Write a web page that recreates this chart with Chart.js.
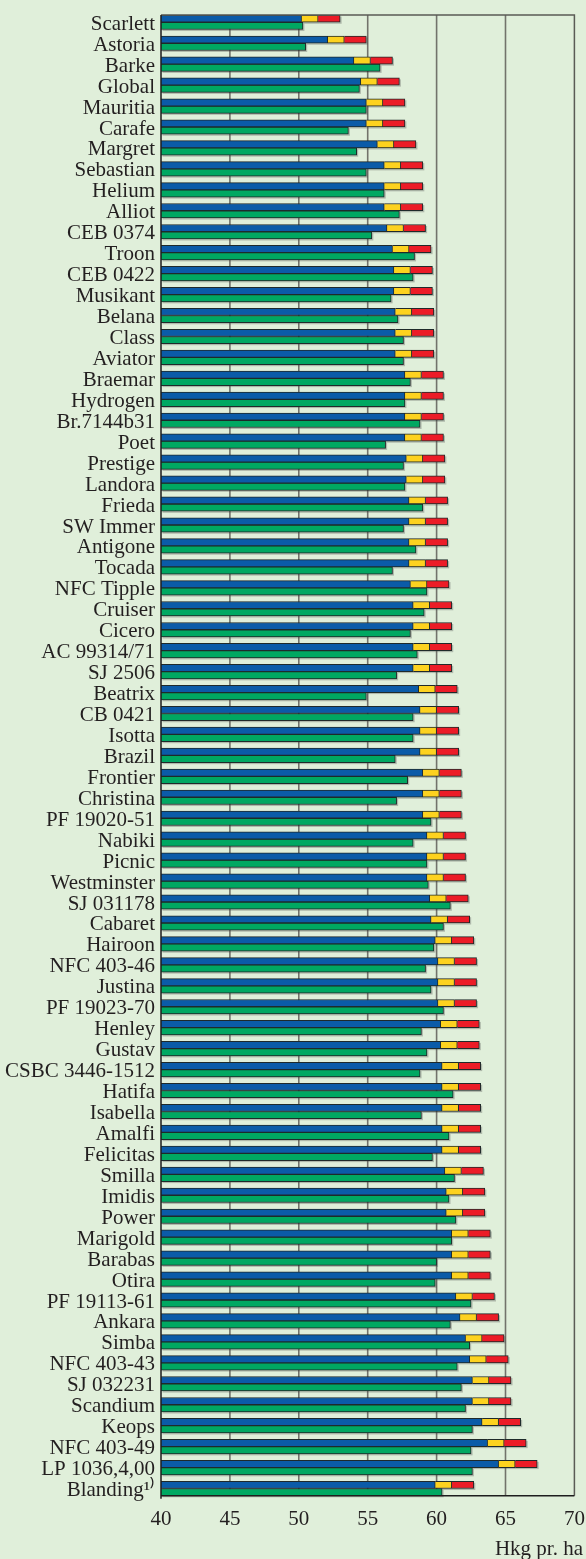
<!DOCTYPE html>
<html>
<head>
<meta charset="utf-8">
<script src="https://cdn.jsdelivr.net/npm/chart.js@4.4.0/dist/chart.umd.min.js"></script>
<style>
  html, body { margin: 0; padding: 0; background: #e0efda; }
  #wrap { width: 586px; height: 1559px; position: relative; }
</style>
</head>
<body>
<div id="wrap"><canvas id="chart"></canvas></div>
<script>
// Sorter
const varieties = [
    'Scarlett', 'Astoria', 'Barke', 'Global', 'Mauritia', 'Carafe', 'Margret', 'Sebastian', 'Helium',
    'Alliot', 'CEB 0374', 'Troon', 'CEB 0422', 'Musikant', 'Belana', 'Class', 'Aviator', 'Braemar',
    'Hydrogen', 'Br.7144b31', 'Poet', 'Prestige', 'Landora', 'Frieda', 'SW Immer', 'Antigone', 'Tocada',
    'NFC Tipple', 'Cruiser', 'Cicero', 'AC 99314/71', 'SJ 2506', 'Beatrix', 'CB 0421', 'Isotta', 'Brazil',
    'Frontier', 'Christina', 'PF 19020-51', 'Nabiki', 'Picnic', 'Westminster', 'SJ 031178', 'Cabaret',
    'Hairoon', 'NFC 403-46', 'Justina', 'PF 19023-70', 'Henley', 'Gustav', 'CSBC 3446-1512', 'Hatifa', 'Isabella',
    'Amalfi', 'Felicitas', 'Smilla', 'Imidis', 'Power', 'Marigold', 'Barabas', 'Otira', 'PF 19113-61',
    'Ankara', 'Simba', 'NFC 403-43', 'SJ 032231', 'Scandium', 'Keops', 'NFC 403-49', 'LP 1036,4,00', 'Blanding¹⁾'
];

// Udbytte, blå søjle (hkg pr. ha)
const yieldBlue = [
    50.2, 52.1, 54.0, 54.5, 54.9, 54.9, 55.7, 56.2, 56.2,
    56.2, 56.4, 56.8, 56.9, 56.9, 57.0, 57.0, 57.0, 57.7,
    57.7, 57.7, 57.7, 57.8, 57.8, 58.0, 58.0, 58.0, 58.0,
    58.1, 58.3, 58.3, 58.3, 58.3, 58.7, 58.8, 58.8, 58.8,
    59.0, 59.0, 59.0, 59.3, 59.3, 59.3, 59.5, 59.6,
    59.9, 60.1, 60.1, 60.1, 60.3, 60.3, 60.4, 60.4, 60.4,
    60.4, 60.4, 60.6, 60.7, 60.7, 61.1, 61.1, 61.1, 61.4,
    61.7, 62.1, 62.4, 62.6, 62.6, 63.3, 63.7, 64.5, 59.9
];

// Gult tillæg
const stepYellow = [
    1.2, 1.2, 1.2, 1.2, 1.2, 1.2, 1.2, 1.2, 1.2,
    1.2, 1.2, 1.2, 1.2, 1.2, 1.2, 1.2, 1.2, 1.2,
    1.2, 1.2, 1.2, 1.2, 1.2, 1.2, 1.2, 1.2, 1.2,
    1.2, 1.2, 1.2, 1.2, 1.2, 1.2, 1.2, 1.2, 1.2,
    1.2, 1.2, 1.2, 1.2, 1.2, 1.2, 1.2, 1.2,
    1.2, 1.2, 1.2, 1.2, 1.2, 1.2, 1.2, 1.2, 1.2,
    1.2, 1.2, 1.2, 1.2, 1.2, 1.2, 1.2, 1.2, 1.2,
    1.2, 1.2, 1.2, 1.2, 1.2, 1.2, 1.2, 1.2, 1.2
];

// Rødt tillæg
const stepRed = [
    1.6, 1.6, 1.6, 1.6, 1.6, 1.6, 1.6, 1.6, 1.6,
    1.6, 1.6, 1.6, 1.6, 1.6, 1.6, 1.6, 1.6, 1.6,
    1.6, 1.6, 1.6, 1.6, 1.6, 1.6, 1.6, 1.6, 1.6,
    1.6, 1.6, 1.6, 1.6, 1.6, 1.6, 1.6, 1.6, 1.6,
    1.6, 1.6, 1.6, 1.6, 1.6, 1.6, 1.6, 1.6,
    1.6, 1.6, 1.6, 1.6, 1.6, 1.6, 1.6, 1.6, 1.6,
    1.6, 1.6, 1.6, 1.6, 1.6, 1.6, 1.6, 1.6, 1.6,
    1.6, 1.6, 1.6, 1.6, 1.6, 1.6, 1.6, 1.6, 1.6
];

// Udbytte, grøn søjle
const yieldGreen = [
    50.3, 50.5, 55.9, 54.4, 54.9, 53.6, 54.2, 54.9, 56.2,
    57.3, 55.3, 58.4, 58.3, 56.7, 57.2, 57.6, 57.6, 58.1,
    57.7, 58.8, 56.3, 57.6, 57.7, 59.0, 57.6, 58.5, 56.8,
    59.3, 59.1, 58.1, 58.6, 57.1, 54.9, 58.3, 58.3, 57.0,
    57.9, 57.1, 59.6, 58.3, 59.3, 59.4, 61.0, 60.5,
    59.8, 59.2, 59.6, 60.5, 58.9, 59.3, 58.8, 61.2, 58.9,
    60.9, 59.7, 61.3, 60.9, 61.4, 61.1, 60.0, 59.9, 62.5,
    61.0, 62.4, 61.5, 61.8, 62.1, 62.6, 62.5, 62.6, 60.4
];

const xMin = 40;
const xMax = 70;
const xStep = 5;
const unitLabel = 'Hkg pr. ha';

const barThickness = 7.25;
const textColor = '#231f20';
const serif = '"Liberation Serif", "Times New Roman", serif';

// Gitter, skygger og ramme
const framePlugin = {
    id: 'frame',
    beforeDatasetsDraw(chart) {
        const { ctx, chartArea, scales: { x, y } } = chart;
        const top = y.getPixelForValue(0) - barThickness;
        const bottom = y.getPixelForValue(varieties.length - 1) + barThickness;

        ctx.save();
        ctx.strokeStyle = '#72736b';
        ctx.lineWidth = 1.6;
        x.ticks.forEach(t => {
            if (t.value <= xMin || t.value >= xMax) return;
            const px = x.getPixelForValue(t.value);
            ctx.beginPath();
            ctx.moveTo(px, top);
            ctx.lineTo(px, bottom);
            ctx.stroke();
        });

        // skygge under søjlerne
        ctx.beginPath();
        ctx.rect(chartArea.left, chartArea.top, chartArea.right - chartArea.left + 4, chartArea.bottom - chartArea.top + 4);
        ctx.clip();
        ctx.fillStyle = 'rgba(70, 70, 70, 0.32)';
        chart.data.datasets.forEach((ds, i) => {
            chart.getDatasetMeta(i).data.forEach(bar => {
                const p = bar.getProps(['x', 'y', 'base', 'height']);
                const l = Math.max(Math.min(p.x, p.base), chartArea.left);
                const r = Math.max(p.x, p.base);
                ctx.fillRect(l + 1.5, p.y - p.height / 2 + 1.5, r - l, p.height);
            });
        });
        ctx.restore();
    },
    afterDatasetsDraw(chart) {
        const { ctx, scales: { x, y } } = chart;
        const top = y.getPixelForValue(0) - barThickness;
        const bottom = y.getPixelForValue(varieties.length - 1) + barThickness;
        const left = x.getPixelForValue(xMin);
        const right = x.getPixelForValue(xMax);

        ctx.save();
        ctx.lineWidth = 1.5;
        ctx.strokeStyle = '#5a5b55';
        ctx.beginPath();
        ctx.moveTo(left, top);
        ctx.lineTo(right, top);
        ctx.lineTo(right, bottom);
        ctx.stroke();

        ctx.strokeStyle = '#1e1e1e';
        ctx.beginPath();
        ctx.moveTo(left, top);
        ctx.lineTo(left, bottom + 3);
        ctx.moveTo(left, bottom);
        ctx.lineTo(right, bottom);
        ctx.stroke();
        ctx.restore();
    },
    afterDraw(chart) {
        const { ctx } = chart;
        ctx.save();
        ctx.font = '21px ' + serif;
        ctx.fillStyle = textColor;
        ctx.textAlign = 'right';
        ctx.textBaseline = 'alphabetic';
        ctx.fillText(unitLabel, chart.width - 3, chart.height - 4);
        ctx.restore();
    }
};

const barStyle = {
    borderColor: '#1f2a2a',
    borderWidth: 1,
    barThickness: barThickness
};

new Chart(document.getElementById('chart'), {
    type: 'bar',
    data: {
        labels: varieties,
        datasets: [
            { ...barStyle, data: yieldBlue, backgroundColor: '#0b5ba8', stack: 'a' },
            { ...barStyle, data: stepYellow, backgroundColor: '#fdd21f', stack: 'a' },
            { ...barStyle, data: stepRed, backgroundColor: '#ec1c27', stack: 'a' },
            { ...barStyle, data: yieldGreen, backgroundColor: '#00a862', stack: 'b' }
        ]
    },
    options: {
        indexAxis: 'y',
        responsive: true,
        maintainAspectRatio: false,
        animation: false,
        layout: { padding: { top: 11.8, right: 0, bottom: 0, left: 0 } },
        plugins: {
            legend: { display: false },
            tooltip: { enabled: false }
        },
        scales: {
            x: {
                type: 'linear',
                stacked: true,
                min: xMin,
                max: xMax,
                ticks: {
                    stepSize: xStep,
                    padding: 8,
                    color: textColor,
                    font: { family: serif, size: 21 }
                },
                grid: { display: false, drawTicks: false },
                border: { display: false },
                afterFit(scale) {
                    scale.height = 60;
                    scale.paddingLeft = 0;
                    scale.paddingRight = 11.6;
                }
            },
            y: {
                type: 'category',
                stacked: true,
                ticks: {
                    padding: 6,
                    labelOffset: 2,
                    color: textColor,
                    autoSkip: false,
                    font: { family: serif, size: 21 }
                },
                grid: { display: false, drawTicks: false },
                border: { display: false },
                afterFit(scale) {
                    scale.width = 161;
                    scale.paddingTop = 0;
                    scale.paddingBottom = 0;
                }
            }
        }
    },
    plugins: [framePlugin]
});
</script>
</body>
</html>
